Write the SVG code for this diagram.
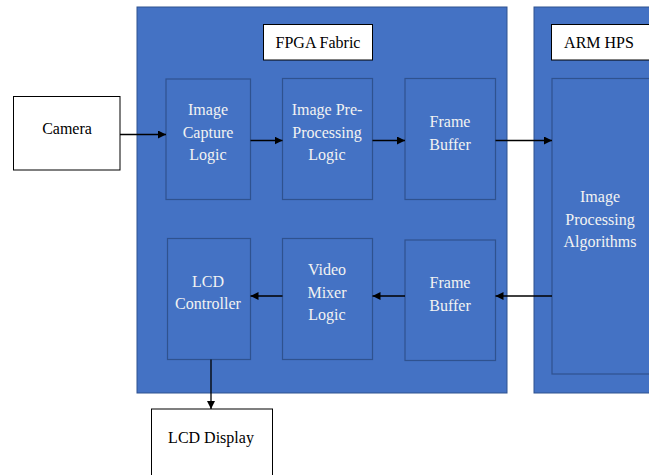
<svg xmlns="http://www.w3.org/2000/svg" width="649" height="475" viewBox="0 0 649 475">
<defs>
<style>
.panel{fill:#4472C4;stroke:#2F528F;stroke-width:1}
.blk{fill:#4472C4;stroke:#2F528F;stroke-width:1.2}
.wbox{fill:#FFFFFF;stroke:#000000;stroke-width:1}
.wt{font-family:'Liberation Serif','DejaVu Serif',serif;font-size:16px;fill:#F2F2F2;text-anchor:middle}
.bt{font-family:'Liberation Serif','DejaVu Serif',serif;font-size:16px;fill:#000000;text-anchor:middle}
.conn{stroke:#000000;stroke-width:1.3;fill:none;marker-end:url(#ah)}
</style>
<marker id="ah" viewBox="0 0 10 10" refX="10" refY="5" markerWidth="8" markerHeight="8" markerUnits="userSpaceOnUse" orient="auto">
<path d="M0,0 L10,5 L0,10 Z" fill="#000000"/>
</marker>
</defs>
<rect width="649" height="475" fill="#FFFFFF"/>
<g id="fpga-fabric">
<rect class="panel" x="137" y="7" width="370" height="386"/>
<rect class="wbox" x="263.5" y="24.5" width="109" height="35.5"/>
<text class="bt" x="318" y="47.5">FPGA Fabric</text>
</g>
<g id="arm-hps">
<rect class="panel" x="534" y="7" width="120" height="386"/>
<rect class="wbox" x="551.5" y="24.5" width="100" height="35.5"/>
<text class="bt" x="599" y="47.5">ARM HPS</text>
</g>
<g id="camera">
<rect class="wbox" x="13.5" y="96.5" width="106.5" height="73.5"/>
<text class="bt" x="67" y="134">Camera</text>
</g>
<g id="image-capture-logic">
<rect class="blk" x="166" y="79" width="84.5" height="120.5"/>
<text class="wt" x="208" y="115">Image</text>
<text class="wt" x="208" y="137.5">Capture</text>
<text class="wt" x="208" y="160">Logic</text>
</g>
<g id="image-preprocessing-logic">
<rect class="blk" x="282.5" y="78.5" width="90" height="121"/>
<text class="wt" x="327" y="115">Image Pre-</text>
<text class="wt" x="327" y="137.5">Processing</text>
<text class="wt" x="327" y="160">Logic</text>
</g>
<g id="frame-buffer-in">
<rect class="blk" x="405" y="78.5" width="90.5" height="121"/>
<text class="wt" x="450" y="127">Frame</text>
<text class="wt" x="450" y="149.5">Buffer</text>
</g>
<g id="image-processing-algorithms">
<rect class="blk" x="552" y="78.5" width="100" height="295.5"/>
<text class="wt" x="600" y="202">Image</text>
<text class="wt" x="600" y="224.5">Processing</text>
<text class="wt" x="600" y="247">Algorithms</text>
</g>
<g id="lcd-controller">
<rect class="blk" x="167.5" y="238.5" width="83" height="121"/>
<text class="wt" x="208" y="286.5">LCD</text>
<text class="wt" x="208" y="309">Controller</text>
</g>
<g id="video-mixer-logic">
<rect class="blk" x="282.5" y="238.5" width="90" height="121"/>
<text class="wt" x="327" y="275">Video</text>
<text class="wt" x="327" y="297.5">Mixer</text>
<text class="wt" x="327" y="320">Logic</text>
</g>
<g id="frame-buffer-out">
<rect class="blk" x="405" y="240" width="90.5" height="120.5"/>
<text class="wt" x="450" y="288">Frame</text>
<text class="wt" x="450" y="310.5">Buffer</text>
</g>
<g id="lcd-display">
<rect class="wbox" x="151.5" y="409" width="121" height="80"/>
<text class="bt" x="211" y="443">LCD Display</text>
</g>
<g id="connectors">
<line class="conn" x1="120" y1="134.5" x2="166" y2="134.5"/>
<line class="conn" x1="250.5" y1="140.5" x2="282.5" y2="140.5"/>
<line class="conn" x1="372.5" y1="140.5" x2="405" y2="140.5"/>
<line class="conn" x1="495.5" y1="140.5" x2="552" y2="140.5"/>
<line class="conn" x1="552" y1="296" x2="495.5" y2="296"/>
<line class="conn" x1="405" y1="296" x2="372.5" y2="296"/>
<line class="conn" x1="282.5" y1="296" x2="250.5" y2="296"/>
<line class="conn" x1="211" y1="359.5" x2="211" y2="409"/>
</g>
</svg>
